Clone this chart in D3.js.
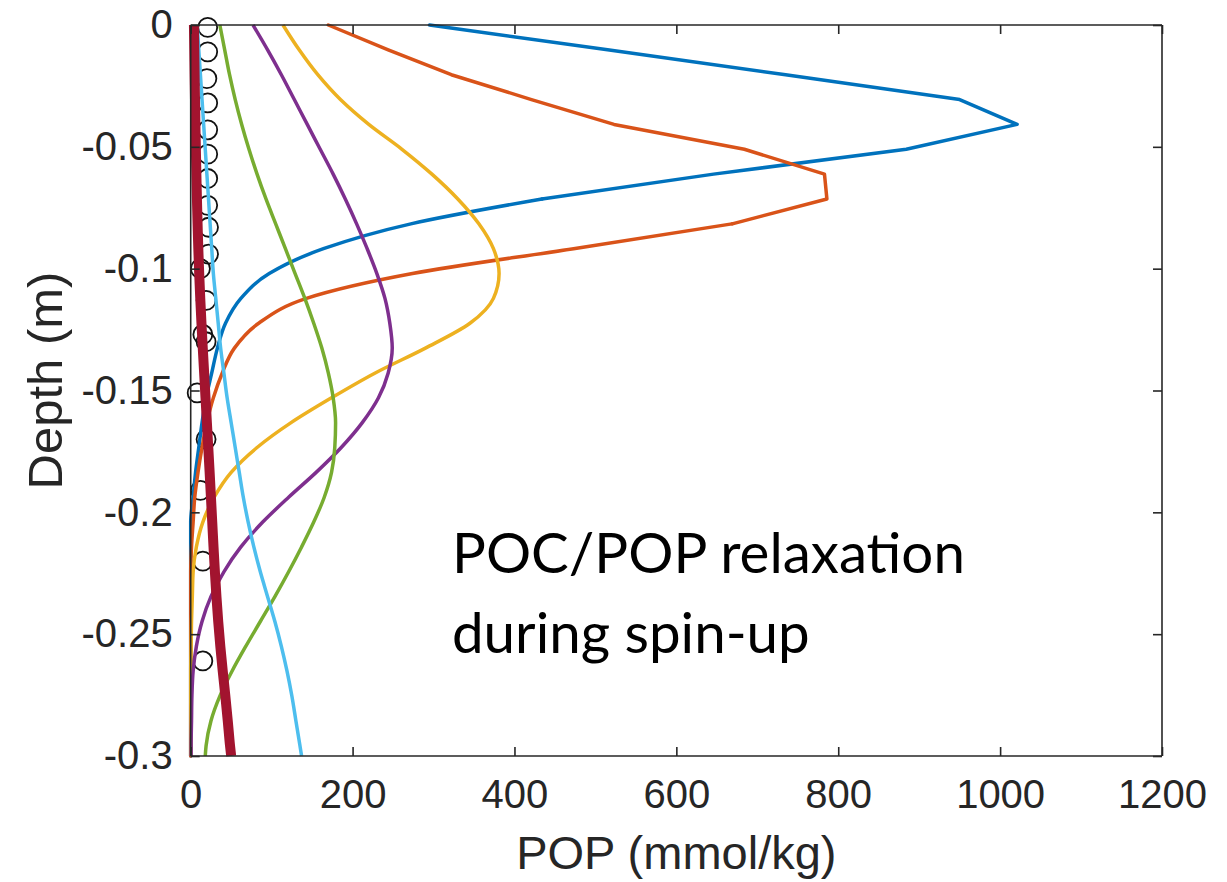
<!DOCTYPE html>
<html>
<head>
<meta charset="utf-8">
<script src="https://cdn.jsdelivr.net/npm/d3@7"></script>
<style>
  html, body { margin: 0; padding: 0; background: #fff; }
  svg { display: block; }
</style>
</head>
<body>
<svg id="chart" width="1227" height="882"></svg>
<script>
// Depth grid (m, positive downward; plotted as negative)
const depth = [0, 0.0102, 0.0204, 0.0306, 0.0408, 0.051, 0.0612, 0.0714, 0.0816, 0.0918,
  0.102, 0.1122, 0.1224, 0.1326, 0.1428, 0.153, 0.1632, 0.1734, 0.1836, 0.1938,
  0.204, 0.2142, 0.2244, 0.2346, 0.2448, 0.255, 0.2652, 0.2754, 0.2856, 0.2958, 0.3];

// POP profiles (mmol/kg) at successive spin-up stages
const popBlue   = [295, 515, 735, 950, 1021, 884, 646, 434, 272, 164, 97, 62, 43, 33, 26, 19, 14, 10, 6, 3, 0, 0, 0, 0, 0, 0, 0, 0, 0, 0, 0];
const popOrange = [170, 244, 322, 421, 523, 684, 783, 786, 669, 473, 274, 143, 84, 54, 39, 28, 20, 14, 9, 5, 3, 1, 0, 0, 0, 0, 0, 0, 0, 0, 0];
const popYellow = [114, 134, 157, 185, 220, 261, 298, 330, 356, 374, 381, 374, 345, 290, 228, 174, 124, 82, 50, 29, 15, 7, 3, 2, 1, 0.5, 0, 0, 0, 0, 0];
const popPurple = [77, 95, 112, 128, 144, 160, 176, 191, 205, 218, 230, 240, 246, 249, 244, 232, 212, 186, 155, 121, 89, 62, 41, 25, 14, 7, 3, 1.5, 1, 0.5, 0.5];
const popGreen  = [36, 42, 48, 55, 63, 72, 82, 93, 105, 117, 129, 141, 152, 162, 170, 176, 179, 178, 174, 165, 152, 137, 121, 104, 86, 68, 51, 36, 25, 19, 18];
const popCyan   = [8, 10, 12, 14, 16, 18, 20, 22, 24, 26, 28, 31, 34, 37, 41, 45, 50, 55, 60, 65, 71, 78, 86, 95, 104, 112, 119, 125, 130, 135, 137];
const popFinal  = [4, 4.4, 4.8, 5.3, 5.8, 6.4, 7, 7.7, 8.5, 9.4, 10.5, 11.8, 13.3, 14.9, 16.6, 18.3, 20, 21.7, 23.4, 25, 26.6, 28.2, 29.9, 31.8, 34, 36.6, 39.6, 42.8, 45.8, 48.6, 50];

// Observations (open circles)
const obsDepth = [0.001, 0.011, 0.022, 0.032, 0.043, 0.053, 0.063, 0.074, 0.083, 0.094, 0.100, 0.113, 0.127, 0.130, 0.151, 0.170, 0.191, 0.220, 0.261];
const obsPOP   = [21, 21, 20, 21, 21, 21, 21, 21, 22, 22, 12, 19, 15, 19, 8, 19, 12, 15, 15];

const seriesValues = [popBlue, popOrange, popYellow, popPurple, popGreen, popCyan, popFinal];
const seriesColors = ["#0072BD", "#D95319", "#EDB120", "#7E2F8E", "#77AC30", "#4DBEEE", "#A2142F"];
const seriesWidths = [3.5, 3.5, 3.5, 3.5, 3.5, 3.5, 10];
// index up to which the profile is drawn with straight segments (sharp peak), smooth afterwards
const seriesKinkEnd = [7, 8, 0, 0, 0, 0, 0];

const xTicks = [0, 200, 400, 600, 800, 1000, 1200];
const yTicks = [0, -0.05, -0.1, -0.15, -0.2, -0.25, -0.3];
const yTickLabels = ["0", "-0.05", "-0.1", "-0.15", "-0.2", "-0.25", "-0.3"];
const xLabel = "POP (mmol/kg)";
const yLabel = "Depth (m)";
const noteLines = ["POC/POP relaxation", "during spin-up"];

const svg = d3.select("#chart");
const L = 190.7, R = 1162, T = 25, B = 756;
const x = d3.scaleLinear().domain([0, 1200]).range([L, R]);
const y = d3.scaleLinear().domain([-0.3, 0]).range([B, T]);
const axisColor = "#262626";
const tickFont = "'Liberation Sans', Arial, Helvetica, sans-serif";

// Observation circles (beneath the model lines)
svg.append("g")
  .selectAll("circle")
  .data(obsDepth.map((d, i) => [obsPOP[i], d]))
  .join("circle")
  .attr("cx", d => x(d[0]))
  .attr("cy", d => y(-d[1]))
  .attr("r", 9.5)
  .attr("fill", "none")
  .attr("stroke", "#111")
  .attr("stroke-width", 1.8);

// Lines
const linLine = d3.line().x(d => x(d[0])).y(d => y(-d[1])).curve(d3.curveLinear);
const smoothLine = d3.line().x(d => x(d[0])).y(d => y(-d[1])).curve(d3.curveMonotoneY);
seriesValues.forEach((vals, i) => {
  const pts = vals.map((v, j) => [v, depth[j]]);
  const k = seriesKinkEnd[i];
  const g = svg.append("g")
    .attr("fill", "none")
    .attr("stroke", seriesColors[i])
    .attr("stroke-width", seriesWidths[i])
    .attr("stroke-linejoin", "round")
    .attr("stroke-linecap", k > 0 ? "round" : "butt");
  if (k > 0) g.append("path").attr("d", linLine(pts.slice(0, k + 1)));
  g.append("path").attr("d", smoothLine(pts.slice(k)));
});

// Axes box
const axG = svg.append("g");
const bottomAxis = d3.axisBottom(x).tickValues(xTicks).tickSize(-9).tickPadding(24).tickFormat(d3.format("d"));
const topAxis = d3.axisTop(x).tickValues(xTicks).tickSize(-9).tickFormat("");
const leftAxis = d3.axisLeft(y).tickValues(yTicks).tickSize(-9).tickPadding(18).tickFormat((d, i) => yTickLabels[i]);
const rightAxis = d3.axisRight(y).tickValues(yTicks).tickSize(-9).tickFormat("");

function styleAxis(g) {
  g.select(".domain").attr("stroke", axisColor).attr("stroke-width", 1.6);
  g.selectAll(".tick line").attr("stroke", axisColor).attr("stroke-width", 1.6);
  g.selectAll(".tick text").attr("fill", axisColor).style("font-family", tickFont).style("font-size", "40px");
}
axG.append("g").attr("transform", `translate(0,${B})`).call(bottomAxis).call(g => g.select(".domain").attr("d", `M${L},0H${R}`)).call(styleAxis);
axG.append("g").attr("transform", `translate(0,${T})`).call(topAxis).call(g => g.select(".domain").attr("d", `M${L},0H${R}`)).call(styleAxis);
axG.append("g").attr("transform", `translate(${L},0)`).call(leftAxis).call(g => g.select(".domain").attr("d", `M0,${B}V${T}`)).call(styleAxis);
axG.append("g").attr("transform", `translate(${R},0)`).call(rightAxis).call(g => g.select(".domain").attr("d", `M0,${B}V${T}`)).call(styleAxis);

// Axis titles
svg.append("text")
  .attr("x", (L + R) / 2).attr("y", 869)
  .attr("text-anchor", "middle")
  .attr("fill", axisColor)
  .style("font-family", tickFont).style("font-size", "47px")
  .text(xLabel);
svg.append("text")
  .attr("transform", `translate(62,${(T + B) / 2 - 10}) rotate(-90)`)
  .attr("text-anchor", "middle")
  .attr("fill", axisColor)
  .style("font-family", tickFont).style("font-size", "49px")
  .text(yLabel);

// Annotation
const note = svg.append("g").style("font-family", "Lato, 'Open Sans', sans-serif").attr("fill", "#000");
const t1 = note.append("text").attr("x", 452).attr("y", 573).style("font-size", "60px").text(noteLines[0]);
const w = t1.node().getComputedTextLength();
const fs = 60 * 513 / w;
t1.style("font-size", fs + "px");
note.append("text").attr("x", 452).attr("y", 653).style("font-size", fs + "px").text(noteLines[1]);
</script>
</body>
</html>
